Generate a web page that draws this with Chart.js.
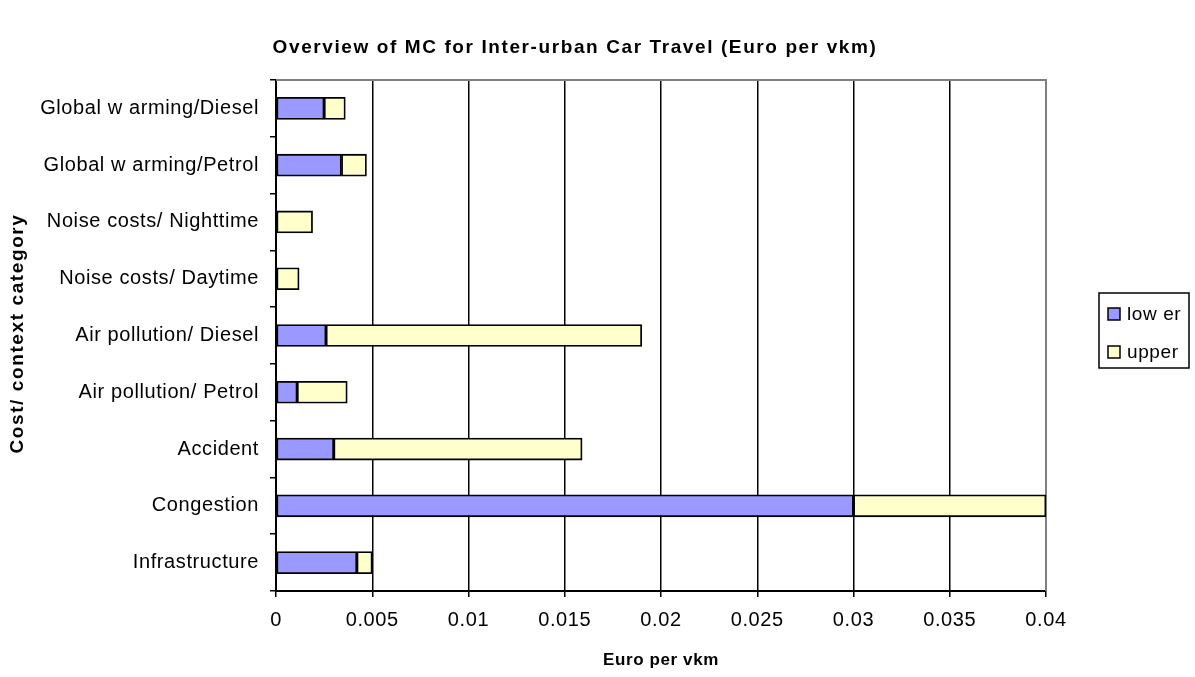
<!DOCTYPE html>
<html>
<head>
<meta charset="utf-8">
<script src="https://cdn.jsdelivr.net/npm/chart.js@4.4.1/dist/chart.umd.min.js"></script>
<style>
  html, body { margin: 0; padding: 0; background: #fff; }
  #wrap { width: 1195px; height: 677px; }
</style>
</head>
<body>
<div id="wrap"><canvas id="mcChart" width="1195" height="677"></canvas></div>
<script>
// MC for inter-urban car travel, top-to-bottom as in the picture
const categories = [
  "Global w arming/Diesel",
  "Global w arming/Petrol",
  "Noise costs/ Nighttime",
  "Noise costs/ Daytime",
  "Air pollution/ Diesel",
  "Air pollution/ Petrol",
  "Accident",
  "Congestion",
  "Infrastructure"
];
const lowerValues = [0.0025, 0.0034, 0, 0, 0.0026, 0.0011, 0.0030, 0.030, 0.0042];
const upperValues = [0.0011, 0.0013, 0.0019, 0.0012, 0.0164, 0.0026, 0.0129, 0.010, 0.0008];
const seriesNames = ["low er", "upper"];
const xTickLabels = ["0", "0.005", "0.01", "0.015", "0.02", "0.025", "0.03", "0.035", "0.04"];
const chartTitle = "Overview of MC for Inter-urban Car Travel (Euro per vkm)";
const yTitle = "Cost/ context category";
const xTitle = "Euro per vkm";

const FONT = "'Liberation Sans', Arial, sans-serif";

// Excel-ish spaced text, grey frame on top/right, boxed legend, titles
const framePlugin = {
  id: "frame",
  beforeLayout(chart) { chart.ctx.letterSpacing = "0.6px"; },
  beforeDraw(chart) { chart.ctx.letterSpacing = "0.6px"; },
  beforeDatasetsDraw(chart) {
    const a = chart.chartArea, ctx = chart.ctx;
    ctx.save();
    ctx.strokeStyle = "#808080";
    ctx.lineWidth = 2;
    ctx.beginPath();
    ctx.moveTo(a.left, a.top);
    ctx.lineTo(a.right, a.top);
    ctx.lineTo(a.right, a.bottom);
    ctx.stroke();
    ctx.restore();
  },
  afterDraw(chart) {
    const ctx = chart.ctx, a = chart.chartArea;
    ctx.save();
    // chart title
    ctx.fillStyle = "#000";
    ctx.letterSpacing = "1.6px";
    ctx.font = "bold 19px " + FONT;
    ctx.textAlign = "center";
    ctx.textBaseline = "middle";
    ctx.fillText(chartTitle, 575, 48);
    // y axis title
    ctx.save();
    ctx.translate(18, (a.top + a.bottom) / 2 - 2);
    ctx.rotate(-Math.PI / 2);
    ctx.fillText(yTitle, 0, 0);
    ctx.restore();

    // legend
    const bx = 1099, by = 293, bw = 90, bh = 75;
    ctx.letterSpacing = "0.6px";
    ctx.strokeStyle = "#000";
    ctx.lineWidth = 1.5;
    ctx.strokeRect(bx, by, bw, bh);
    ctx.font = "19px " + FONT;
    ctx.textAlign = "left";
    chart.data.datasets.forEach((ds, i) => {
      const cy = by + 21 + i * 38;
      ctx.fillStyle = ds.backgroundColor;
      ctx.fillRect(bx + 9, cy - 6, 12, 12);
      ctx.strokeRect(bx + 9, cy - 6, 12, 12);
      ctx.fillStyle = "#000";
      ctx.fillText(ds.label, bx + 28, cy + 1);
    });
    ctx.restore();
  }
};

new Chart(document.getElementById("mcChart"), {
  type: "bar",
  data: {
    labels: categories,
    datasets: [
      { label: seriesNames[0], data: lowerValues, backgroundColor: "#9999FF" },
      { label: seriesNames[1], data: upperValues, backgroundColor: "#FFFFCC" }
    ]
  },
  options: {
    indexAxis: "y",
    responsive: false,
    animation: false,
    layout: { padding: { left: 0, right: 149, top: 80, bottom: 0 } },
    datasets: {
      bar: { borderColor: "#000", borderWidth: 1.8, borderSkipped: false, barThickness: 22 }
    },
    plugins: {
      legend: { display: false },
      tooltip: { enabled: false },
      title: { display: false }
    },
    scales: {
      x: {
        stacked: true,
        min: 0,
        max: 0.04,
        ticks: {
          stepSize: 0.005,
          color: "#000",
          font: { family: FONT, size: 20 },
          padding: 11,
          maxRotation: 0,
          callback: (v, i) => xTickLabels[i]
        },
        grid: { color: "#000", lineWidth: 1.5, tickLength: 6 },
        border: { color: "#000", width: 2 },
        title: {
          display: true,
          text: xTitle,
          color: "#000",
          font: { family: FONT, size: 17, weight: "bold" },
          padding: { top: 0, bottom: 6 }
        },
        afterFit: (s) => { s.height = 86; }
      },
      y: {
        stacked: true,
        ticks: { color: "#000", font: { family: FONT, size: 20 }, padding: 11 },
        grid: { drawOnChartArea: false, color: "#000", lineWidth: 1.5, tickLength: 6 },
        border: { color: "#000", width: 2 },
        title: { display: false },
        afterFit: (s) => { s.width = 276; }
      }
    }
  },
  plugins: [framePlugin]
});
</script>
</body>
</html>
